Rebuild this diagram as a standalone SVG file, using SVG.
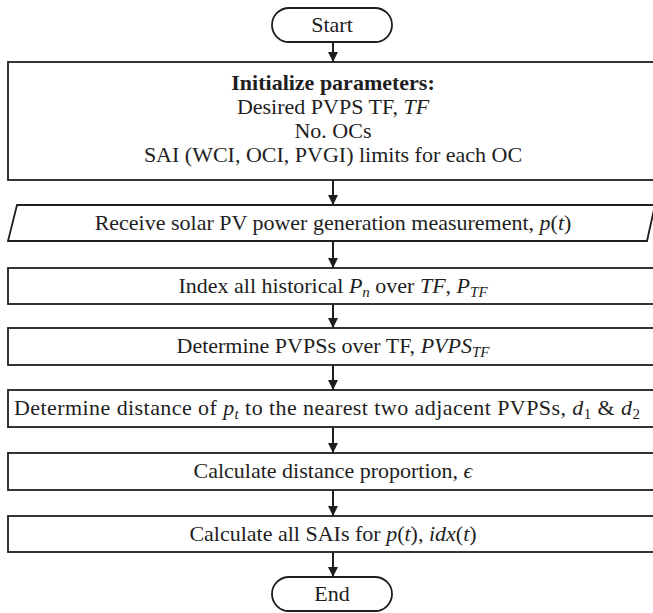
<svg xmlns="http://www.w3.org/2000/svg" width="653" height="613" viewBox="0 0 653 613">
<style>
.box{fill:#fff;stroke:#1e1e1e;stroke-width:1.8}
.t{font-family:"Liberation Serif","Times New Roman",serif;font-size:22px;fill:#1e1e1e;text-anchor:middle}
.b{font-weight:bold}
.m{font-style:italic}
.s{font-size:15px}
.arr{stroke:#1e1e1e;stroke-width:2;fill:none;marker-end:url(#ah)}
</style>
<defs>
<marker id="ah" viewBox="0 0 10 10" refX="10" refY="5" markerWidth="11" markerHeight="10" markerUnits="userSpaceOnUse" orient="auto">
<path d="M0,0 L10,5 L0,10 Z" fill="#1e1e1e"/>
</marker>
</defs>
<rect width="653" height="613" fill="#fff"/>
<g id="connectors">
<line class="arr" x1="333" y1="42" x2="333" y2="62"/>
<line class="arr" x1="333" y1="180" x2="333" y2="205"/>
<line class="arr" x1="333" y1="241" x2="333" y2="268"/>
<line class="arr" x1="333" y1="304" x2="333" y2="328"/>
<line class="arr" x1="333" y1="365" x2="333" y2="390"/>
<line class="arr" x1="333" y1="427" x2="333" y2="453"/>
<line class="arr" x1="333" y1="490" x2="333" y2="516"/>
<line class="arr" x1="333" y1="552" x2="333" y2="577"/>
</g>
<g id="start">
<rect class="box" x="272" y="8" width="120" height="34" rx="17"/>
<text class="t" x="332" y="32">Start</text>
</g>
<g id="init">
<rect class="box" x="8" y="62" width="652" height="118"/>
<text class="t b" x="333" y="90">Initialize parameters:</text>
<text class="t" x="333" y="114">Desired PVPS TF, <tspan class="m">TF</tspan></text>
<text class="t" x="333" y="138">No. OCs</text>
<text class="t" x="333" y="162">SAI (WCI, OCI, PVGI) limits for each OC</text>
</g>
<g id="receive">
<path class="box" d="M17,205 L655,205 L647,241 L8,241 Z"/>
<text class="t" x="333" y="230">Receive solar PV power generation measurement, <tspan class="m">p</tspan>(<tspan class="m">t</tspan>)</text>
</g>
<g id="index">
<rect class="box" x="8" y="268" width="652" height="36"/>
<text class="t" x="333" y="293">Index all historical <tspan class="m">P</tspan><tspan class="m s" dy="4">n</tspan><tspan dy="-4"> over </tspan><tspan class="m">TF</tspan>, <tspan class="m">P</tspan><tspan class="m s" dy="4">TF</tspan></text>
</g>
<g id="pvps">
<rect class="box" x="8" y="328" width="652" height="37"/>
<text class="t" x="333" y="353">Determine PVPSs over TF, <tspan class="m">PVPS</tspan><tspan class="m s" dy="4">TF</tspan></text>
</g>
<g id="distance">
<rect class="box" x="8" y="390" width="652" height="37"/>
<text class="t" x="327" y="415" textLength="626" lengthAdjust="spacing">Determine distance of <tspan class="m">p</tspan><tspan class="m s" dy="4">t</tspan><tspan dy="-4"> to the nearest two adjacent PVPSs, </tspan><tspan class="m">d</tspan><tspan class="s" dy="4">1</tspan><tspan dy="-4"> &amp; </tspan><tspan class="m">d</tspan><tspan class="s" dy="4">2</tspan></text>
</g>
<g id="proportion">
<rect class="box" x="8" y="453" width="652" height="37"/>
<text class="t" x="333" y="478">Calculate distance proportion, <tspan class="m">ϵ</tspan></text>
</g>
<g id="sais">
<rect class="box" x="8" y="516" width="652" height="36"/>
<text class="t" x="333" y="541">Calculate all SAIs  for <tspan class="m">p</tspan>(<tspan class="m">t</tspan>), <tspan class="m">idx</tspan>(<tspan class="m">t</tspan>)</text>
</g>
<g id="end">
<rect class="box" x="272" y="577" width="120" height="34" rx="17"/>
<text class="t" x="332" y="601">End</text>
</g>
</svg>
